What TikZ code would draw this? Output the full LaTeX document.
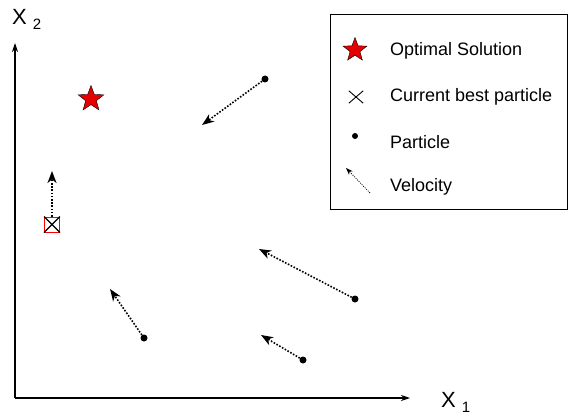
\documentclass[tikz,border=0pt]{standalone}
\usepackage{fontspec}
\setmainfont{Liberation Sans}
\usetikzlibrary{shapes.geometric, arrows.meta, positioning}

\begin{document}
\begin{tikzpicture}[x=1pt, y=-1pt,
  axis/.style={-{Stealth[length=9pt, width=6pt]}, line width=1.1pt},
  particle/.style={circle, fill=black, inner sep=0pt, minimum size=7pt},
  velocity/.style={-{Stealth[length=12pt, width=9pt, inset=3.5pt]}, line width=1.6pt, dash pattern=on 1.6pt off 1.6pt},
  optimum/.style={star, star points=5, star point ratio=2.4, draw=black, line width=0.4pt, fill=red!90!black, inner sep=0pt, minimum size=27pt},
  bestbox/.style={rectangle, draw=red, line width=1pt, minimum size=15pt, inner sep=0pt},
  cross/.style={black, line width=1.1pt},
  legendtext/.style={anchor=base west, inner sep=0pt, font=\fontsize{18}{20}\selectfont},
  axistext/.style={anchor=base west, inner sep=0pt, font=\fontsize{22}{24}\selectfont},
]
\useasboundingbox (0,0) rectangle (569,417);

% axes
\coordinate (origin) at (15,398);
\coordinate (ytop) at (15,43);
\coordinate (xend) at (410,398);
\draw[axis] (origin) -- (ytop);
\draw[axis] (origin) -- (xend);
\node[axistext] (xlabel) at (441,407) {X\hspace{6pt}\raisebox{-5pt}{\fontsize{15}{15}\selectfont 1}};
\node[axistext] (ylabel) at (12,25) {X\hspace{6pt}\raisebox{-5pt}{\fontsize{15}{15}\selectfont 2}};

% optimum and best particle
\node[optimum] (opt) at (91,99) {};
\node[bestbox] (best) at (52,224.5) {};
\draw[cross] (best.north west) -- (best.south east) (best.north east) -- (best.south west);
\coordinate (bestv) at (52,171);
\draw[velocity] (best.north) -- (bestv);

% particles
\node[particle] (p1) at (265,79) {};
\node[particle] (p2) at (355,299) {};
\node[particle] (p3) at (303,360) {};
\node[particle] (p4) at (144,338) {};
\coordinate (v1) at (202,125);
\coordinate (v2) at (259,249);
\coordinate (v3) at (261,335);
\coordinate (v4) at (110,289);
\draw[velocity] (p1) -- (v1);
\draw[velocity] (p2) -- (v2);
\draw[velocity] (p3) -- (v3);
\draw[velocity] (p4) -- (v4);

% legend
\node[draw, line width=1.1pt, minimum width=237pt, minimum height=195pt, anchor=north west] (legend) at (330,14) {};
\node[optimum, minimum size=25pt] (lopt) at (355,50) {};
\node[legendtext] (topt) at (390,56) {Optimal Solution};
\node[minimum width=14pt, minimum height=12pt, inner sep=0pt] (lbest) at (356,97) {};
\draw[black, line width=0.9pt] (lbest.north west) -- (lbest.south east) (lbest.north east) -- (lbest.south west);
\node[legendtext] (tbest) at (390,102) {Current best particle};
\node[particle, minimum size=6pt] (lpart) at (355,136) {};
\node[legendtext] (tpart) at (390,148) {Particle};
\coordinate (lvs) at (370,193);
\coordinate (lve) at (346,168);
\draw[-{Stealth[length=7pt, width=5pt, inset=2pt]}, line width=0.8pt, dash pattern=on 0.9pt off 1.3pt] (lvs) -- (lve);
\node[legendtext] (tvel) at (390,191) {Velocity};
\end{tikzpicture}
\end{document}
